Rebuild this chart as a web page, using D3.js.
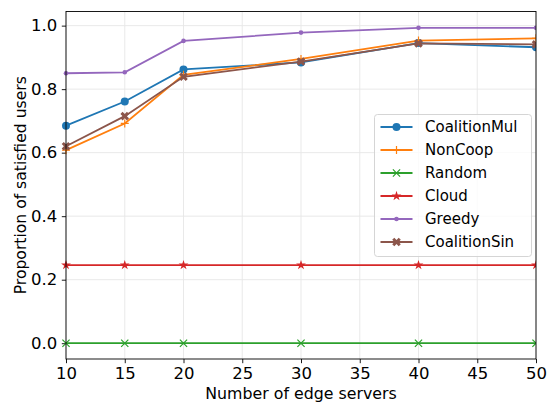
<!DOCTYPE html>
<html>
<head>
<meta charset="utf-8">
<script src="https://cdn.jsdelivr.net/npm/d3@7/dist/d3.min.js"></script>
<style>
  html, body { margin: 0; padding: 0; background: #fff; }
  svg { display: block; font-family: "DejaVu Sans", sans-serif; }
</style>
</head>
<body>
<svg id="chart" width="554" height="403"></svg>
<script>
// Number of edge servers on the x axis
const servers = [10, 15, 20, 30, 40, 50];

// Proportion of satisfied users per method
const coalitionMul = [0.685, 0.761, 0.862, 0.884, 0.945, 0.932];
const nonCoop      = [0.608, 0.692, 0.845, 0.895, 0.953, 0.960];
const randomAlloc  = [0.0, 0.0, 0.0, 0.0, 0.0, 0.0];
const cloud        = [0.246, 0.246, 0.246, 0.246, 0.246, 0.246];
const greedy       = [0.850, 0.853, 0.952, 0.978, 0.993, 0.993];
const coalitionSin = [0.620, 0.715, 0.839, 0.887, 0.944, 0.941];

const xTicks = [10, 15, 20, 25, 30, 35, 40, 45, 50];
const yTicks = [0.0, 0.2, 0.4, 0.6, 0.8, 1.0];

const seriesNames = ["CoalitionMul", "NonCoop", "Random", "Cloud", "Greedy", "CoalitionSin"];
const seriesValues = [coalitionMul, nonCoop, randomAlloc, cloud, greedy, coalitionSin];
const seriesColors = ["#1f77b4", "#ff7f0e", "#2ca02c", "#d62728", "#9467bd", "#8c564b"];
const seriesMarkers = ["circle", "plus", "x", "star", "point", "xfilled"];

const svg = d3.select("#chart");
const margin = { left: 66, right: 18, top: 11.5, bottom: 44 };
const W = 554, H = 403;
const plotW = W - margin.left - margin.right;
const plotH = H - margin.top - margin.bottom;

const x = d3.scaleLinear().domain([10, 50]).range([0, plotW]);
const y = d3.scaleLinear().domain([-0.0497, 1.0445]).range([plotH, 0]);

const g = svg.append("g").attr("transform", `translate(${margin.left},${margin.top})`);

// grid
g.append("g").selectAll("line").data(xTicks).join("line")
  .attr("x1", d => x(d)).attr("x2", d => x(d))
  .attr("y1", 0).attr("y2", plotH)
  .attr("stroke", "#e6e6e6").attr("stroke-width", 0.9);
g.append("g").selectAll("line").data(yTicks).join("line")
  .attr("x1", 0).attr("x2", plotW)
  .attr("y1", d => y(d)).attr("y2", d => y(d))
  .attr("stroke", "#e6e6e6").attr("stroke-width", 0.9);

// axes
const xAxis = d3.axisBottom(x).tickValues(xTicks).tickFormat(d3.format("d")).tickSize(4.2).tickPadding(4.5);
const yAxis = d3.axisLeft(y).tickValues(yTicks).tickFormat(d3.format(".1f")).tickSize(4.2).tickPadding(4.5);

const gx = g.append("g").attr("transform", `translate(0,${plotH})`).call(xAxis);
const gy = g.append("g").call(yAxis);
[gx, gy].forEach(a => {
  a.select(".domain").remove();
  a.selectAll("text").attr("font-family", "DejaVu Sans").attr("font-size", 16.5).attr("fill", "#000");
  a.selectAll("line").attr("stroke", "#000").attr("stroke-width", 0.9);
});

// series lines and markers
const line = d3.line().x((d, i) => x(servers[i])).y(d => y(d));

function drawMarker(sel, type, color) {
  if (type === "circle") {
    sel.append("circle").attr("r", 4).attr("fill", color);
  } else if (type === "point") {
    sel.append("circle").attr("r", 2.3).attr("fill", color);
  } else if (type === "plus") {
    sel.append("path").attr("d", "M-4,0H4M0,-4V4").attr("stroke", color).attr("stroke-width", 1.2).attr("fill", "none");
  } else if (type === "x") {
    sel.append("path").attr("d", "M-3.6,-3.6L3.6,3.6M-3.6,3.6L3.6,-3.6").attr("stroke", color).attr("stroke-width", 1.2).attr("fill", "none");
  } else if (type === "star") {
    sel.append("path").attr("d", d3.symbol(d3.symbolStar, 30)()).attr("fill", color);
  } else if (type === "xfilled") {
    const a = 4.3, b = 2.1;
    const p = `M${-a},${-a + b}L${-a + b},${-a}L0,${-b}L${a - b},${-a}L${a},${-a + b}L${b},0L${a},${a - b}L${a - b},${a}L0,${b}L${-a + b},${a}L${-a},${a - b}L${-b},0Z`;
    sel.append("path").attr("d", p).attr("fill", color);
  }
}

svg.append("defs").append("clipPath").attr("id", "plotclip")
  .append("rect").attr("x", -6).attr("y", -6).attr("width", plotW + 6).attr("height", plotH + 12);

const series = g.append("g").attr("clip-path", "url(#plotclip)");
seriesValues.forEach((vals, si) => {
  const sg = series.append("g");
  sg.append("path").datum(vals).attr("d", line)
    .attr("fill", "none").attr("stroke", seriesColors[si]).attr("stroke-width", 1.8);
  vals.forEach((v, i) => {
    const m = sg.append("g").attr("transform", `translate(${x(servers[i])},${y(v)})`);
    drawMarker(m, seriesMarkers[si], seriesColors[si]);
  });
});

// spines
g.append("rect").attr("x", 0).attr("y", 0).attr("width", plotW).attr("height", plotH)
  .attr("fill", "none").attr("stroke", "#000").attr("stroke-width", 0.9);

// axis titles
svg.append("text")
  .attr("x", margin.left + plotW / 2).attr("y", 398.5)
  .attr("text-anchor", "middle").attr("font-size", 15.8).attr("font-family", "DejaVu Sans")
  .text("Number of edge servers");
svg.append("text")
  .attr("transform", `translate(26,${margin.top + plotH / 2}) rotate(-90)`)
  .attr("text-anchor", "middle").attr("font-size", 15.6).attr("font-family", "DejaVu Sans")
  .text("Proportion of satisfied users");

// legend
const lg = svg.append("g").attr("transform", "translate(374.5,114.5)");
lg.append("rect").attr("width", 157).attr("height", 142).attr("rx", 3)
  .attr("fill", "#fff").attr("fill-opacity", 0.8).attr("stroke", "#d0d0d0").attr("stroke-width", 0.9);
seriesNames.forEach((name, i) => {
  const row = lg.append("g").attr("transform", `translate(0,${12.5 + i * 23})`);
  row.append("line").attr("x1", 6).attr("x2", 38).attr("y1", 0).attr("y2", 0)
    .attr("stroke", seriesColors[i]).attr("stroke-width", 1.8);
  const m = row.append("g").attr("transform", "translate(22,0)");
  drawMarker(m, seriesMarkers[i], seriesColors[i]);
  row.append("text").attr("x", 50.5).attr("y", 0).attr("dy", "0.36em")
    .attr("font-size", 15).attr("font-family", "DejaVu Sans").text(name);
});
</script>
</body>
</html>
